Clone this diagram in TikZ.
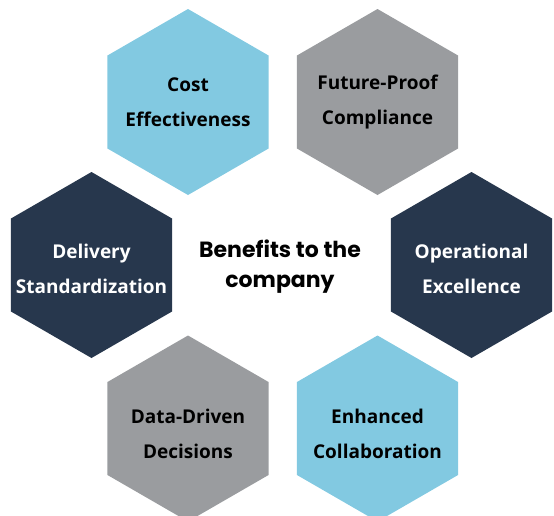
\documentclass[tikz,border=0pt]{standalone}
\usepackage{fontspec}
\setmainfont{Open Sans}
\newfontfamily\titlefont{Poppins}
\usetikzlibrary{shapes.geometric}

\definecolor{skyblue}{HTML}{82C9E1}
\definecolor{stonegray}{HTML}{9A9C9F}
\definecolor{navy}{HTML}{27374D}

\tikzset{
    hexa/.style={regular polygon, regular polygon sides=6, regular polygon rotate=30,
        minimum size=186pt, inner sep=0pt, draw=none, fill=#1},
    hexlbl/.style={align=center, font=\fontsize{19}{35}\selectfont\bfseries, text=#1},
    hexlbl/.default=black
}

\begin{document}
\begin{tikzpicture}[x=1pt, y=1pt]
    \useasboundingbox (0,0) rectangle (554,-515);

    % Верхний ряд
    \node[hexa=skyblue] (cost) at (188,-102) {};
    \node[hexlbl] (cost-t) at (cost) {Cost\\Effectiveness};
    \node[hexa=stonegray] (proof) at (377.5,-102) {};
    \node[hexlbl] (proof-t) at (proof) {Future-Proof\\Compliance};

    % Средний ряд
    \node[hexa=navy] (deliv) at (91.5,-265) {};
    \node[hexlbl=white, yshift=-4pt] (deliv-t) at (deliv) {Delivery\\Standardization};
    \node[hexa=navy] (oper) at (471.5,-265) {};
    \node[hexlbl=white, yshift=-4pt] (oper-t) at (oper) {Operational\\Excellence};

    % Нижний ряд
    \node[hexa=stonegray] (data) at (188,-428.5) {};
    \node[hexlbl, yshift=-5pt] (data-t) at (data) {Data-Driven\\Decisions};
    \node[hexa=skyblue] (collab) at (377.5,-428.5) {};
    \node[hexlbl, yshift=-5pt] (collab-t) at (collab) {Enhanced\\Collaboration};

    % Центр
    \node[align=center, font=\titlefont\fontsize{22}{30}\selectfont\bfseries] (benefits) at (280,-267)
        {Benefits to the\\company};
\end{tikzpicture}
\end{document}
